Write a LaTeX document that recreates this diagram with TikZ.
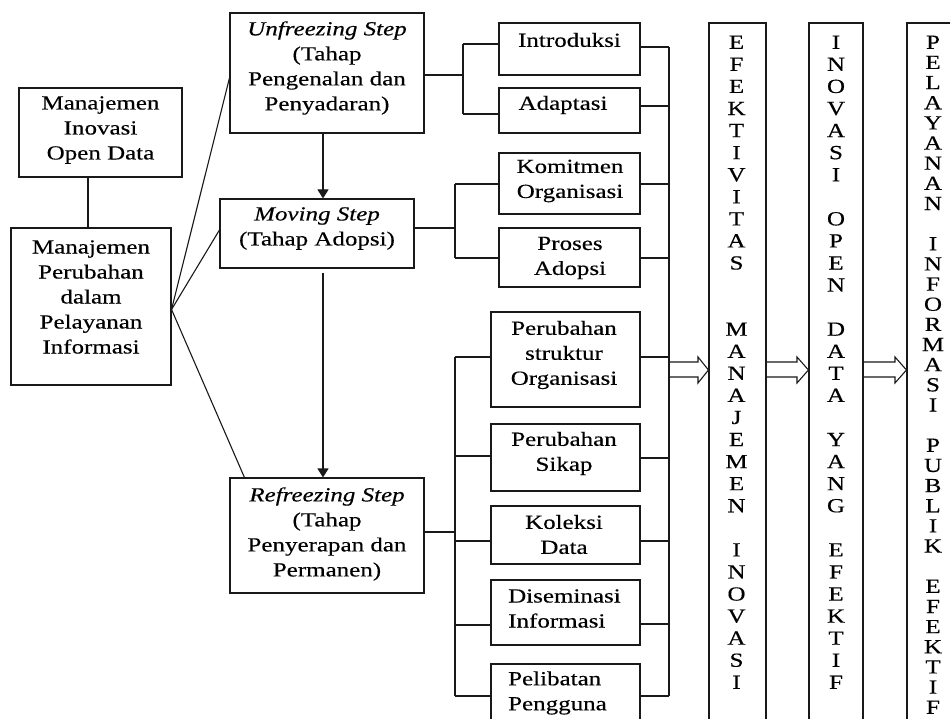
\documentclass[tikz,border=0pt]{standalone}
\usepackage{fontspec}
\setmainfont[FakeStretch=1.25,FakeBold=0.35]{Liberation Serif}
\usetikzlibrary{arrows.meta}
\begin{document}
\begin{tikzpicture}[x=1pt,y=-1pt,
  bx/.style={draw=black!90, line width=1.1pt, inner sep=0pt},
  tx/.style={align=center, inner sep=0pt, font=\fontsize{20}{25}\selectfont},
  txl/.style={align=left, inner sep=0pt, anchor=west, font=\fontsize{20}{25}\selectfont},
  ln/.style={draw=black!90, line width=1.1pt},
  arr/.style={ln, -{Triangle[width=11pt,length=9pt]}},
  colA/.style={align=center, inner sep=0pt, anchor=north, font=\fontsize{20}{22.07}\selectfont},
  colB/.style={align=center, inner sep=0pt, anchor=north, font=\fontsize{20}{20.15}\selectfont},
  blk/.style={ln, line join=miter},
]
\useasboundingbox (0,0) rectangle (950,719);

% left boxes
\node[bx, minimum width=163pt, minimum height=89pt] (oi) at (100.5,132.5) {};
\node[tx] (oiT) at (100.5,130) {Manajemen\\Inovasi\\Open Data};
\node[bx, minimum width=160pt, minimum height=157pt] (mp) at (91,306.5) {};
\node[tx] (mpT) at (91,297) {Manajemen\\Perubahan\\dalam\\Pelayanan\\Informasi};

% step boxes
\node[bx, minimum width=194pt, minimum height=120pt] (uf) at (327,73) {};
\node[tx] (ufT) at (327,68) {\textit{Unfreezing Step}\\(Tahap\\Pengenalan dan\\Penyadaran)};
\node[bx, minimum width=194pt, minimum height=69pt] (mv) at (317,233.5) {};
\node[tx] (mvT) at (317,228.5) {\textit{Moving Step}\\(Tahap Adopsi)};
\node[bx, minimum width=194pt, minimum height=115pt] (rf) at (327,535.5) {};
\node[tx] (rfT) at (327,534) {\textit{Refreezing Step}\\(Tahap\\Penyerapan dan\\Permanen)};

% small boxes
\node[bx, minimum width=141pt, minimum height=52pt] (intro) at (569.5,49) {};
\node[tx] (introT) at (569.5,40) {Introduksi};
\node[bx, minimum width=141pt, minimum height=45pt] (adap) at (569.5,110.5) {};
\node[tx] (adapT) at (563,105) {Adaptasi};
\node[bx, minimum width=141pt, minimum height=61pt] (kom) at (569.5,183.5) {};
\node[tx] (komT) at (570,181) {Komitmen\\Organisasi};
\node[bx, minimum width=141pt, minimum height=59pt] (pro) at (569.5,257.5) {};
\node[tx] (proT) at (570,258) {Proses\\Adopsi};
\node[bx, minimum width=149pt, minimum height=95pt] (pso) at (565.5,359.5) {};
\node[tx] (psoT) at (564,355) {Perubahan\\struktur\\Organisasi};
\node[bx, minimum width=149pt, minimum height=67pt] (ps) at (565.5,457.5) {};
\node[tx] (psT) at (564,453.5) {Perubahan\\Sikap};
\node[bx, minimum width=149pt, minimum height=58pt] (kd) at (565.5,535) {};
\node[tx] (kdT) at (564,534.5) {Koleksi\\Data};
\node[bx, minimum width=149pt, minimum height=65pt] (di) at (565.5,612.5) {};
\node[txl] (diT) at (508,608.5) {Diseminasi\\Informasi};
\node[bx, minimum width=149pt, minimum height=76pt] (pp) at (565.5,702) {};
\node[txl] (ppT) at (508,693) {Pelibatan\\Pengguna};

% tall boxes
\node[bx, minimum width=57pt, minimum height=717pt] (t1) at (737.5,381.5) {};
\node[bx, minimum width=54pt, minimum height=717pt] (t2) at (836,381.5) {};
\node[bx, minimum width=53pt, minimum height=717pt] (t3) at (933.5,381.5) {};
\node[colA] (t1T) at (736.5,35.5) {E\\F\\E\\K\\T\\I\\V\\I\\T\\A\\S\\[44.14pt]M\\A\\N\\A\\J\\E\\M\\E\\N\\[22.07pt]I\\N\\O\\V\\A\\S\\I};
\node[colA] (t2T) at (836,35.5) {I\\N\\O\\V\\A\\S\\I\\[22.07pt]O\\P\\E\\N\\[22.07pt]D\\A\\T\\A\\[22.07pt]Y\\A\\N\\G\\[22.07pt]E\\F\\E\\K\\T\\I\\F};
\node[colB] (t3T) at (933,35.5) {P\\E\\L\\A\\Y\\A\\N\\A\\N\\[20.15pt]I\\N\\F\\O\\R\\M\\A\\S\\I\\[20.15pt]P\\U\\B\\L\\I\\K\\[20.15pt]E\\F\\E\\K\\T\\I\\F};

% left connectors
\draw[ln] ([xshift=-3pt]mp.north) -- ([xshift=-3pt]mp.north |- oi.south);
\coordinate (mpR) at ([yshift=-3pt]mp.east);
\draw[ln] (mpR) -- ([yshift=-5pt]uf.west);
\draw[ln] (mpR) -- ([yshift=3.5pt]mv.west);
\draw[ln] (mpR) -- ([xshift=15pt]rf.north west);
\draw[arr] ([xshift=-4pt]uf.south) -- ([xshift=6pt]mv.north);
\draw[arr] ([xshift=6pt,yshift=-4pt]mv.south) -- ([xshift=-4pt]rf.north);

% brackets
\coordinate (ufJ) at (463,75);
\coordinate (ufA) at (463,44);
\coordinate (ufB) at (463,114);
\draw[ln] (uf.east |- ufJ) -- (ufJ);
\draw[ln] (ufA) -- (ufB);
\draw[ln] (ufA) -- (ufA -| intro.west);
\draw[ln] (ufB) -- (ufB -| adap.west);

\coordinate (mvJ) at (455,228);
\coordinate (mvA) at (455,184);
\coordinate (mvB) at (455,258);
\draw[ln] (mv.east |- mvJ) -- (mvJ);
\draw[ln] (mvA) -- (mvB);
\draw[ln] (mvA) -- (mvA -| kom.west);
\draw[ln] (mvB) -- (mvB -| pro.west);

\coordinate (rfJ) at (455,532);
\coordinate (rfA) at (455,357);
\coordinate (rfB) at (455,696);
\draw[ln] (rf.east |- rfJ) -- (rfJ);
\draw[ln] (rfA) -- (rfB);
\foreach \n/\yy in {pso/357, ps/456, kd/541, di/625, pp/696}
  \draw[ln] (rfA |- 0,\yy) -- (\n.west |- 0,\yy);

% collector
\coordinate (cT) at (669,47);
\coordinate (cB) at (669,696);
\draw[ln] (cT) -- (cB);
\foreach \n/\yy in {intro/47, adap/106, kom/184, pro/258, pso/357, ps/458, kd/541, di/624, pp/696}
  \draw[ln] (\n.east |- 0,\yy) -- (cT |- 0,\yy);

% block arrows
\draw[blk] (cT |- 0,362) -- (698,362) -- (698,357) -- (t1.west |- 0,370) -- (698,383) -- (698,377) -- (cT |- 0,377);
\draw[blk] (t1.east |- 0,362) -- (797,362) -- (797,357) -- (t2.west |- 0,370) -- (797,383) -- (797,377) -- (t1.east |- 0,377);
\draw[blk] (t2.east |- 0,362) -- (895,362) -- (895,357) -- (t3.west |- 0,370) -- (895,383) -- (895,377) -- (t2.east |- 0,377);
\end{tikzpicture}
\end{document}
